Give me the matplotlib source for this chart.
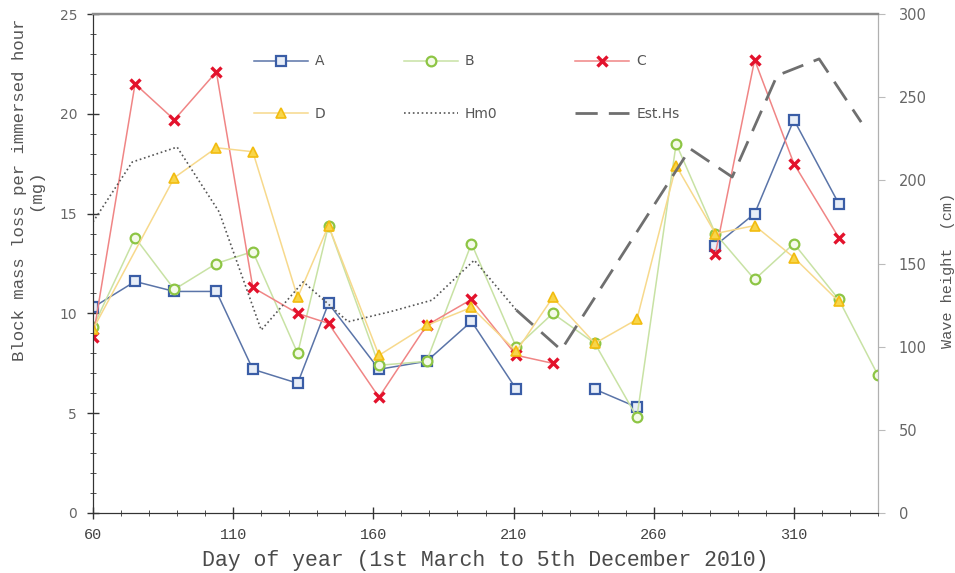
import numpy as np
import matplotlib
matplotlib.use("Agg")
import matplotlib.pyplot as plt
from matplotlib.ticker import MultipleLocator

nan = np.nan

# sampling days (day of year)
days = [60, 75, 89, 104, 117, 133, 144, 162, 179, 195, 211, 224, 239, 254, 268, 282, 296, 310, 326, 340]

# block mass loss per immersed hour (mg); nan = no sample (line broken)
block_a = [10.3, 11.6, 11.1, 11.1, 7.2, 6.5, 10.5, 7.2, 7.6, 9.6, 6.2, nan, 6.2, 5.3, nan, 13.4, 15.0, 19.7, 15.5, nan]
block_b = [9.3, 13.8, 11.2, 12.5, 13.1, 8.0, 14.4, 7.4, 7.6, 13.5, 8.3, 10.0, 8.5, 4.8, 18.5, 14.0, 11.7, 13.5, 10.7, 6.9]
block_c = [8.8, 21.5, 19.7, 22.1, 11.3, 10.0, 9.5, 5.8, 9.4, 10.7, 7.9, 7.5, nan, nan, nan, 13.0, 22.7, 17.5, 13.8, nan]
# D has no sample on day 75 but its line runs straight through
days_d = [60, 89, 104, 117, 133, 144, 162, 179, 195, 211, 224, 239, 254, 268, 282, 296, 310, 326]
block_d = [9.2, 16.8, 18.3, 18.1, 10.8, 14.4, 7.9, 9.4, 10.3, 8.1, 10.8, 8.5, 9.7, 17.4, 14.0, 14.4, 12.8, 10.6]

# wave height (cm)
hm0_days = [60, 74, 90, 105, 120, 135, 151, 166, 181, 196, 211]
hm0 = [175, 211, 220, 181, 110, 139, 115, 121, 128, 152, 122]
est_days = [211, 227, 273, 288, 304, 319, 334]
est_hs = [122, 98, 219, 202, 263, 273, 235]

mono = "Liberation Mono"

fig = plt.figure(figsize=(9.55, 5.73), dpi=100)
ax = fig.add_axes([93 / 955, 1 - 513 / 573, 785 / 955, 499 / 573])
ax2 = ax.twinx()

la, = ax.plot(days, block_a, color="#5a74a8", lw=1.1, marker="s", ms=6.5,
              mec="#3a5da6", mfc="#e8eef8", mew=1.6, label="A")
lb, = ax.plot(days, block_b, color="#c8e2a4", lw=1.1, marker="o", ms=7,
              mec="#8dc544", mfc="#f4fae9", mew=1.6, label="B")
lc, = ax.plot(days, block_c, color="#f08585", lw=1.1, marker="x", ms=7,
              mec="#e3122c", mew=2.4, label="C")
ld, = ax.plot(days_d, block_d, color="#f7d98c", lw=1.1, marker="^", ms=7.5,
              mec="#f2bc10", mfc="#f8d54a", mew=1.2, label="D")

lh, = ax2.plot(hm0_days, hm0, color="#555555", lw=1.2, ls=":", label="Hm0")
le, = ax2.plot(est_days, est_hs, color="#6f6f6f", lw=2.0, ls=(0, (8, 4)), label="Est.Hs")

ax.set_xlim(60, 340)
ax.set_ylim(0, 25)
ax2.set_ylim(0, 300)

ax.set_xticks(range(60, 311, 50))
ax.xaxis.set_minor_locator(MultipleLocator(10))
ax.set_yticks(range(0, 26, 5))
ax.yaxis.set_minor_locator(MultipleLocator(1))
ax2.set_yticks(range(0, 301, 50))

ax.tick_params(axis="x", which="major", direction="inout", length=9, width=1,
               color="#333333", labelcolor="#444444", labelsize=11,
               labelfontfamily=mono, pad=6)
ax.tick_params(axis="x", which="minor", direction="inout", length=5, color="#333333")
ax.tick_params(axis="y", which="major", direction="inout", length=9, width=1,
               color="#333333", labelcolor="#666666", labelsize=10, pad=7)
ax.tick_params(axis="y", which="minor", direction="inout", length=4, color="#333333")
ax2.tick_params(axis="y", direction="out", length=5, color="#bbbbbb",
                labelcolor="#666666", labelsize=10.5, pad=10)

for a in (ax, ax2):
    a.spines["top"].set_color("#8c8c8c")
    a.spines["top"].set_linewidth(1.6)
    a.spines["left"].set_color("#333333")
    a.spines["bottom"].set_color("#333333")
    a.spines["right"].set_color("#b0b0b0")

ax.set_xlabel("Day of year (1st March to 5th December 2010)", fontfamily=mono,
              fontsize=15.5, color="#4a4a4a", labelpad=6)
fig.text(28 / 955, 1 - 190 / 573, "Block mass loss per immersed hour\n(mg)",
         rotation=90, ha="center", va="center", multialignment="center",
         fontfamily=mono, fontsize=12.5, color="#555555", linespacing=1.1)
fig.text(948 / 955, 1 - 270 / 573, "Wave height  (cm)", rotation=90,
         ha="center", va="center", fontfamily=mono, fontsize=11, color="#555555")

# row-major order A B C / D Hm0 Est.Hs
handles = [la, ld, lb, lh, lc, le]
leg = ax2.legend(handles=handles, labels=[h.get_label() for h in handles], ncol=3,
                 frameon=False, loc="upper left", bbox_to_anchor=(0.198, 0.93),
                 fontsize=10, handlelength=3.9, handletextpad=0.5,
                 columnspacing=5.6, labelspacing=2.75, numpoints=1, borderaxespad=0)
for t in leg.get_texts():
    t.set_color("#555555")

fig.savefig("out.png", dpi=100)
